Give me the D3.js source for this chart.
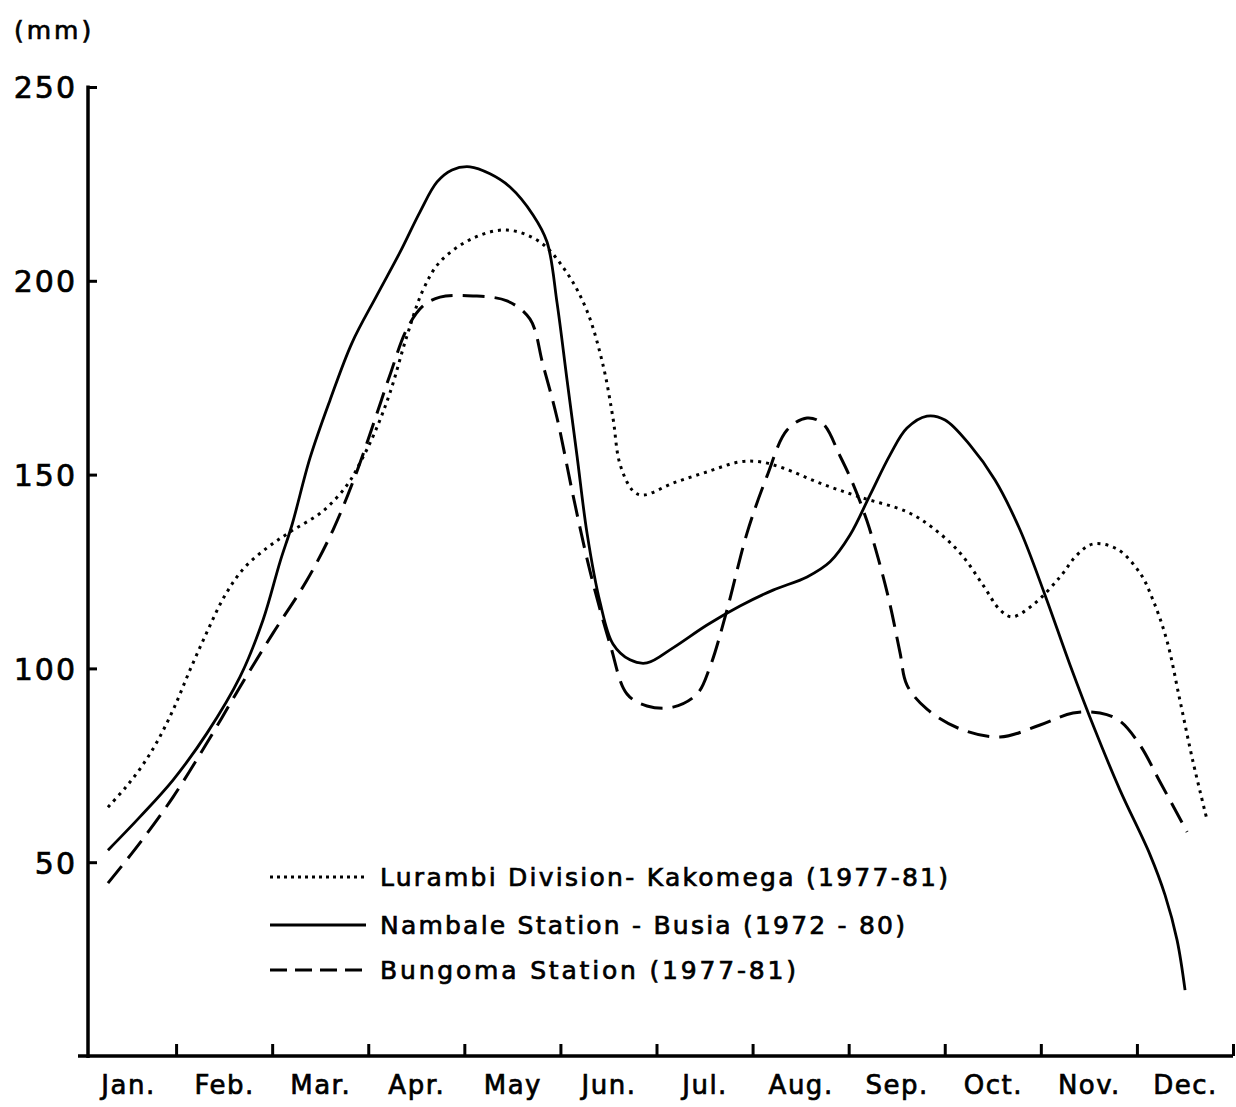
<!DOCTYPE html>
<html><head><meta charset="utf-8">
<script src="https://cdn.jsdelivr.net/npm/d3@7"></script>
<style>
html,body{margin:0;padding:0;background:#fff;}
svg{display:block;}
text{font-family:"DejaVu Sans",sans-serif;fill:#000;stroke:#000;stroke-width:0.7px;}
</style></head>
<body>
<svg id="chart" width="1236" height="1107"></svg>
<script>
// ---- data (month position 0..12 along the axis, value in mm) ----
const months = ["Jan.","Feb.","Mar.","Apr.","May","Jun.","Jul.","Aug.","Sep.","Oct.","Nov.","Dec."];
const yTicks = [50,100,150,200,250];
const seriesNames = ["Lurambi Division- Kakomega (1977-81)","Nambale Station - Busia (1972 - 80)","Bungoma Station (1977-81)"];

const lurambiT = [0.291,0.468,0.645,0.812,0.978,1.145,1.322,1.499,1.697,1.946,2.186,2.529,2.779,2.914,3.070,3.226,3.403,3.570,3.747,4.090,4.444,4.788,5.069,5.277,5.443,5.547,5.620,5.756,5.860,6.172,6.526,6.869,7.077,7.317,7.702,8.118,8.607,8.878,9.159,9.398,9.575,9.700,9.919,10.200,10.377,10.543,10.793,11.032,11.168,11.313,11.449,11.584,11.730];
const lurambiV = [64.2,69.1,74.8,81.5,89.8,99.6,109.4,118.4,125.6,131.1,135.2,140.6,147.3,153.0,161.0,171.1,185.8,197.6,204.9,211.0,213.1,210.0,202.0,192.2,178.3,164.6,152.7,145.8,144.7,147.8,150.7,153.3,153.3,151.7,147.8,144.2,140.4,136.2,129.8,121.5,115.1,113.3,116.4,123.6,129.3,132.1,130.8,124.6,117.6,107.1,91.6,75.9,60.9];

const nambaleT = [0.291,0.624,0.968,1.322,1.665,1.905,2.082,2.206,2.394,2.602,2.831,3.091,3.331,3.539,3.716,3.872,4.059,4.267,4.475,4.715,4.861,4.965,5.069,5.173,5.277,5.412,5.547,5.724,5.901,6.172,6.526,6.869,7.213,7.567,7.806,8.014,8.222,8.431,8.607,8.815,9.003,9.263,9.523,9.784,10.044,10.304,10.564,10.824,11.137,11.293,11.418,11.501];
const nambaleV = [53.1,61.7,71.2,83.3,97.8,112.5,127.5,137.0,154.3,169.2,184.0,196.3,207.4,217.8,225.5,228.6,229.4,227.6,224.2,217.0,210.0,194.3,174.4,154.8,134.9,117.1,106.3,102.2,101.4,105.3,111.2,116.1,120.2,123.6,127.5,134.4,144.7,155.1,162.0,165.1,164.1,157.6,148.6,135.7,118.9,100.9,84.1,68.6,51.9,41.5,29.9,17.0];

const bungomaT = [0.291,0.624,0.968,1.322,1.665,2.009,2.363,2.633,2.883,3.050,3.226,3.403,3.570,3.747,4.090,4.444,4.684,4.819,4.965,5.131,5.308,5.516,5.693,5.901,6.172,6.422,6.557,6.734,6.942,7.150,7.359,7.567,7.733,7.910,8.045,8.191,8.326,8.431,8.535,8.607,8.815,9.159,9.575,9.992,10.335,10.616,10.824,11.032,11.241,11.522];
const bungomaV = [44.6,55.0,66.8,80.8,95.2,109.1,122.8,135.7,150.9,162.8,175.7,187.6,193.5,195.8,196.1,194.8,190.1,178.3,164.6,144.7,125.1,106.3,93.4,90.3,90.0,93.4,100.4,115.1,134.9,149.6,161.5,164.6,163.1,154.8,147.6,138.0,126.7,116.4,104.0,95.7,89.5,84.4,82.3,85.4,88.5,88.5,86.4,80.2,70.7,57.8];

// ---- layout ----
const svg = d3.select("#chart");
const x = d3.scaleLinear().domain([0,12]).range([80,1233]);
const y = d3.scaleLinear().domain([0,250]).range([1056,87]);
const yAxisX = 88;

// y axis
const gy = svg.append("g").attr("transform",`translate(${yAxisX},0)`)
  .call(d3.axisLeft(y).tickValues(yTicks).tickSize(-9).tickSizeOuter(0).tickPadding(11).tickFormat(d=>d));
gy.select(".domain").remove();
gy.selectAll(".tick line").attr("stroke","#000").attr("stroke-width",3);
gy.selectAll("text").attr("font-size",30).attr("letter-spacing",2).attr("dy","0.36em");
svg.append("line").attr("x1",yAxisX).attr("x2",yAxisX).attr("y1",y(250)-1.5).attr("y2",y(0)+2)
  .attr("stroke","#000").attr("stroke-width",3.5);

// x axis line & ticks
const gx = svg.append("g").attr("transform",`translate(0,${y(0)})`)
  .call(d3.axisBottom(x).tickValues(d3.range(1,13)).tickSize(-12).tickSizeOuter(0).tickFormat(""));
gx.select(".domain").attr("stroke","#000").attr("stroke-width",3.5).attr("d",`M${x(0)-2},0H${x(12)}`);
gx.selectAll(".tick line").attr("stroke","#000").attr("stroke-width",3);

// month labels
const gl = svg.append("g").attr("transform",`translate(0,${y(0)})`)
  .call(d3.axisBottom(x).tickValues(d3.range(12).map(i=>i+0.5)).tickSize(0).tickPadding(20).tickFormat((d,i)=>months[i]));
gl.select(".domain").remove();
gl.selectAll("text").attr("font-size",26).attr("letter-spacing",1.5);

// unit label
svg.append("text").attr("x",14).attr("y",39).attr("font-size",25).attr("letter-spacing",3).text("(mm)");

// lines
const line = d3.line().x(d=>x(d[0])).y(d=>y(d[1])).curve(d3.curveCatmullRom.alpha(0.5));
const styles = [
  {dash:"3,5", w:3, leg:"3,4"},
  {dash:null, w:2.8, leg:null},
  {dash:"22,10", w:3, leg:"17,8"}
];
const data = [
  d3.zip(lurambiT, lurambiV),
  d3.zip(nambaleT, nambaleV),
  d3.zip(bungomaT, bungomaV)
];
data.forEach((d,i)=>{
  svg.append("path").attr("d",line(d)).attr("fill","none").attr("stroke","#000")
    .attr("stroke-width",styles[i].w).attr("stroke-dasharray",styles[i].dash);
});

// legend
const legY = [877, 925, 970];
const legW = [568, 525, 416];
seriesNames.forEach((n,i)=>{
  svg.append("line").attr("x1",270).attr("x2",366).attr("y1",legY[i]).attr("y2",legY[i])
    .attr("stroke","#000").attr("stroke-width",2.8).attr("stroke-dasharray",styles[i].leg);
  svg.append("text").attr("x",380).attr("y",legY[i]).attr("dy","0.36em").attr("font-size",25)
    .attr("textLength",legW[i]).attr("lengthAdjust","spacing").text(n);
});
</script>
</body></html>
